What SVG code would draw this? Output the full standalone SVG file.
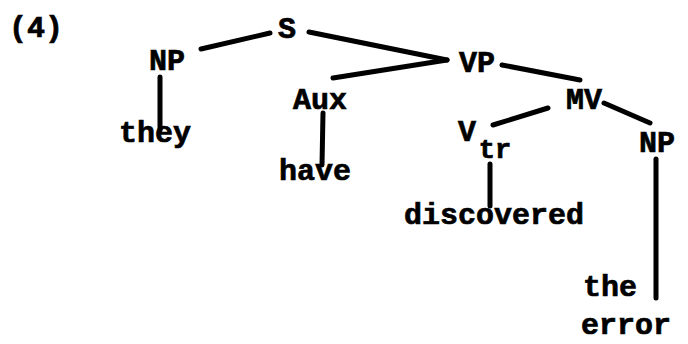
<svg xmlns="http://www.w3.org/2000/svg" width="688" height="344" viewBox="0 0 688 344">
<style>
text{font-family:"Liberation Mono","Courier New",monospace;font-weight:bold;font-size:30px;fill:#000;stroke:#000;stroke-width:0.7;text-anchor:middle}
.sub{font-size:27px}
.e{stroke:#000;stroke-width:5;stroke-linecap:round;fill:none}
</style>
<rect width="688" height="344" fill="#fff"/>
<text id="label" x="36" y="37">(4)</text>
<g id="connectors">
<line class="e" x1="201" y1="49" x2="270" y2="33"/>
<line class="e" x1="160" y1="77" x2="160" y2="130"/>
<line class="e" x1="309" y1="32" x2="447" y2="60"/>
<line class="e" x1="447" y1="60" x2="333" y2="78"/>
<line class="e" x1="323" y1="113" x2="322" y2="165"/>
<line class="e" x1="502" y1="65" x2="580" y2="80"/>
<line class="e" x1="548" y1="108" x2="493" y2="125"/>
<line class="e" x1="604" y1="103" x2="650" y2="123"/>
<line class="e" x1="490" y1="164" x2="490" y2="206"/>
<line class="e" x1="656" y1="159" x2="656" y2="298"/>
</g>
<g id="S"><text x="287" y="38">S</text></g>
<g id="NP1"><text x="167" y="70">NP</text></g>
<g id="they"><text x="155" y="142">they</text></g>
<g id="VP"><text x="477" y="72">VP</text></g>
<g id="Aux"><text x="320" y="109">Aux</text></g>
<g id="have"><text x="315" y="180">have</text></g>
<g id="MV"><text x="584" y="109">MV</text></g>
<g id="Vtr"><text x="467" y="141">V</text><text class="sub" x="495" y="158">tr</text></g>
<g id="discovered"><text x="494" y="224">discovered</text></g>
<g id="NP2"><text x="657" y="152">NP</text></g>
<g id="the_error"><text x="610" y="296">the</text><text x="626" y="334">error</text></g>
</svg>
